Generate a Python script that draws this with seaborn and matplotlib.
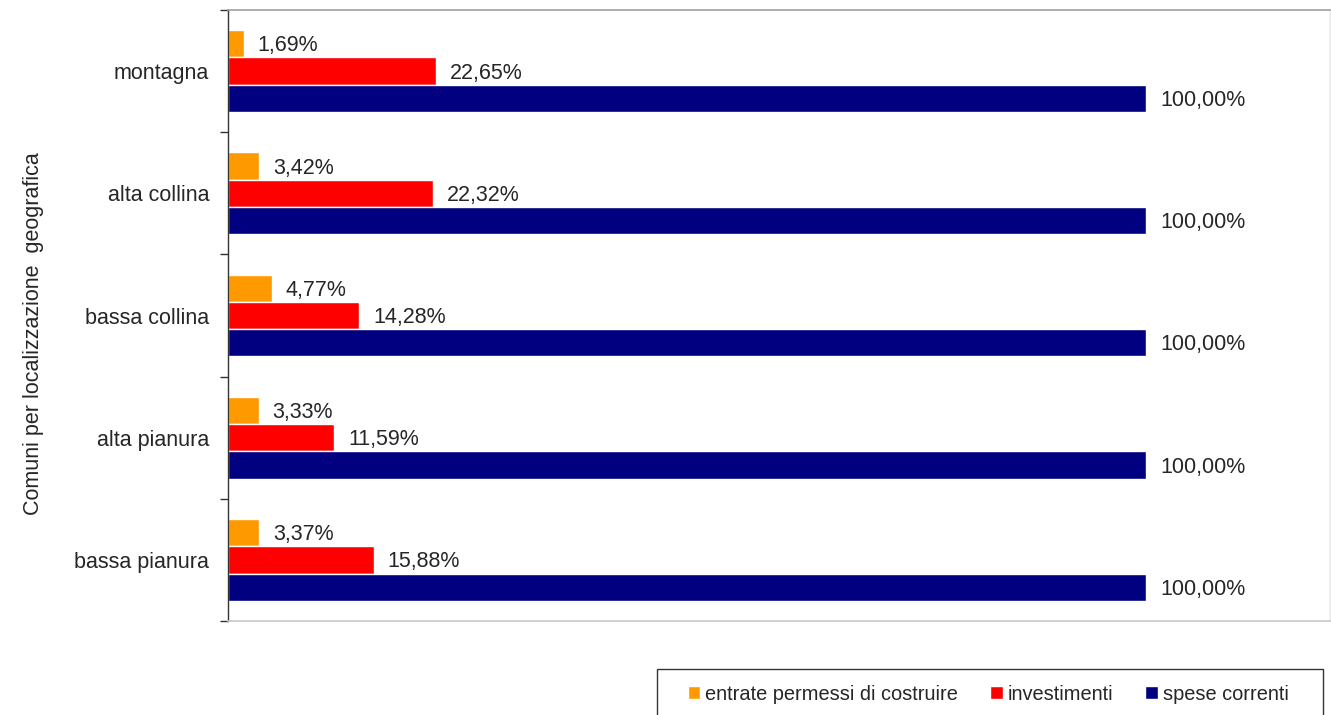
import matplotlib
matplotlib.use("Agg")
import matplotlib.pyplot as plt
from matplotlib.patches import Rectangle
import pandas as pd
import seaborn as sns

categories = ["montagna", "alta collina", "bassa collina", "alta pianura", "bassa pianura"]
series = ["entrate permessi di costruire", "investimenti", "spese correnti"]
entrate = [1.69, 3.42, 4.77, 3.33, 3.37]
investimenti = [22.65, 22.32, 14.28, 11.59, 15.88]
spese = [100.00, 100.00, 100.00, 100.00, 100.00]
colors = ["#FF9900", "#FF0000", "#000080"]

rows = []
for s, vals in zip(series, [entrate, investimenti, spese]):
    for c, v in zip(categories, vals):
        rows.append({"categoria": c, "serie": s, "valore": v})
df = pd.DataFrame(rows)

sns.set_style("white")
plt.rcParams["font.family"] = ["Liberation Sans", "DejaVu Sans"]

fig = plt.figure(figsize=(13.31, 7.15), dpi=100)
ax = fig.add_axes([228 / 1331, 1 - 621 / 715, 1102 / 1331, 611 / 715])

sns.barplot(data=df, y="categoria", x="valore", hue="serie",
            order=categories, hue_order=series, palette=colors,
            orient="h", width=0.67, saturation=1, ax=ax)

# etichette valori in formato italiano
for cont in ax.containers:
    labels = [f"{b.get_width():.2f}%".replace(".", ",") for b in cont]
    anns = ax.bar_label(cont, labels=labels, padding=10, fontsize=15.5)
    for a in anns:
        a.xyann = (10, -1.5)

ax.set_xlim(0, 120)
ax.set_ylim(len(categories) - 0.5, -0.5)
ax.set_xticks([])
ax.set_xlabel("")
ax.set_ylabel("Comuni per localizzazione  geografica", fontsize=15.5)
ax.yaxis.set_label_coords(-0.167, 0.471)
ax.tick_params(axis="y", which="major", length=0, labelsize=15.5, pad=13.5)
ax.set_yticks([i - 0.5 for i in range(len(categories) + 1)], minor=True)
ax.tick_params(axis="y", which="minor", length=6, width=1, color="#333333", left=True)

ax.spines["left"].set_color("#333333")
ax.spines["left"].set_linewidth(1)
ax.spines["top"].set_color("#a0a0a0")
ax.spines["bottom"].set_color("#c8c8c8")
ax.spines["right"].set_color("#ececec")
for sp in ["top", "bottom", "right"]:
    ax.spines[sp].set_linewidth(1.2)

handles, labels = ax.get_legend_handles_labels()
ax.get_legend().remove()
fig.legend(handles, labels, loc="center left",
           bbox_to_anchor=(688 / 1331, 1 - 694 / 715),
           ncol=3, fontsize=14.4, frameon=False,
           handlelength=0.62, handleheight=0.62, handletextpad=0.25,
           borderpad=0, borderaxespad=0, columnspacing=1.6)
fig.patches.append(Rectangle((657 / 1331, -0.05), 666 / 1331, (715 - 669) / 715 + 0.05,
                             transform=fig.transFigure, fill=False,
                             edgecolor="#333333", linewidth=1))

fig.savefig("out.png", dpi=100)
